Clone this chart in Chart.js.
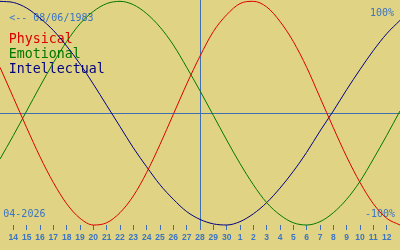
<!DOCTYPE html>
<html>
<head>
<meta charset="utf-8">
<script src="https://cdn.jsdelivr.net/npm/chart.js@4.4.1/dist/chart.umd.min.js"></script>
<style>
  html, body { margin: 0; padding: 0; background: #E0D383; }
  canvas { display: block; }
</style>
</head>
<body>
<canvas id="c" width="400" height="250"></canvas>
<script>
// ---- data ----
const dayIndex = [-1,0,1,2,3,4,5,6,7,8,9,10,11,12,13,14,15,16,17,18,19,20,21,22,23,24,25,26,27,28,29];
const tickIndex = [0,1,2,3,4,5,6,7,8,9,10,11,12,13,14,15,16,17,18,19,20,21,22,23,24,25,26,27,28];
const tickLabels = ['14','15','16','17','18','19','20','21','22','23','24','25','26','27','28','29','30','1','2','3','4','5','6','7','8','9','10','11','12'];
const seriesNames = ['Physical','Emotional','Intellectual'];
const physical = [41,14,-13,-39,-62,-81,-94,-100,-98,-89,-74,-53,-28,-1,26,51,73,88,98,100,95,82,64,41,14,-13,-39,-62,-81,-94,-100];
const emotional = [-41,-20,2,24,45,64,80,91,98,100,97,89,77,61,41,20,-2,-24,-45,-64,-80,-91,-98,-100,-97,-89,-77,-61,-41,-20,2];
const intellectual = [100,99,94,85,74,60,44,26,7,-12,-31,-48,-64,-77,-88,-95,-99,-100,-97,-90,-80,-67,-52,-35,-16,2,21,39,56,71,83];
const todayIndex = 14;
const birthText = '<-- 08/06/1983';
const monthText = '04-2026';
const topText = '100%';
const bottomText = '-100%';

const BLUE = '#3a74c4';
const LINEBLUE = '#3f6fb0';
const seriesColors = ['#dc0000', '#007800', '#000080'];

const textPlugin = {
  id: 'texts',
  beforeDatasetsDraw(chart) {
    const ctx = chart.ctx;
    ctx.save();
    ctx.textBaseline = 'alphabetic';
    ctx.font = '10px "DejaVu Sans Mono"';
    ctx.fillStyle = BLUE;
    ctx.textAlign = 'left';
    ctx.fillText(birthText, 9.2, 21);
    ctx.fillText(monthText, 3.3, 216.5);
    ctx.textAlign = 'right';
    ctx.fillText(topText, 394, 16);
    ctx.fillText(bottomText, 395, 216.5);
    ctx.font = '13.3px "DejaVu Sans Mono"';
    ctx.textAlign = 'left';
    seriesNames.forEach((n, k) => {
      ctx.fillStyle = seriesColors[k];
      ctx.fillText(n, 8.8, 43 + 15 * k);
    });
    ctx.restore();
  }
};

const series = [physical, emotional, intellectual];
new Chart(document.getElementById('c'), {
  type: 'line',
  data: {
    labels: dayIndex,
    datasets: series.map((d, k) => ({
      label: seriesNames[k],
      data: d,
      borderColor: seriesColors[k],
      borderWidth: 1,
      pointRadius: 0,
      cubicInterpolationMode: 'monotone',
      fill: false,
      clip: 4
    }))
  },
  options: {
    responsive: false,
    animation: false,
    devicePixelRatio: 1,
    layout: { padding: 0 },
    plugins: { legend: { display: false }, tooltip: { enabled: false } },
    scales: {
      x: {
        type: 'linear',
        min: -1,
        max: 29,
        afterBuildTicks: (s) => { s.ticks = tickIndex.map(v => ({ value: v })); },
        afterFit: (s) => { s.height = 25; },
        border: { display: false },
        grid: {
          drawOnChartArea: true,
          drawTicks: true,
          tickLength: 5,
          color: (c) => (c.tick && c.tick.value === todayIndex) ? LINEBLUE : 'rgba(0,0,0,0)',
          tickColor: LINEBLUE,
          lineWidth: 1
        },
        ticks: {
          autoSkip: false,
          maxRotation: 0,
          padding: 2.5,
          color: BLUE,
          font: { family: '"Liberation Sans"', size: 8.5, weight: 'bold' },
          callback: (v, i) => tickLabels[i]
        }
      },
      y: {
        min: -100,
        max: 101.2,
        afterBuildTicks: (s) => { s.ticks = [{ value: 0 }]; },
        afterFit: (s) => { s.width = 0; },
        border: { display: false },
        grid: { drawTicks: false, color: LINEBLUE, lineWidth: 1 },
        ticks: { display: false }
      }
    }
  },
  plugins: [textPlugin]
});
</script>
</body>
</html>
